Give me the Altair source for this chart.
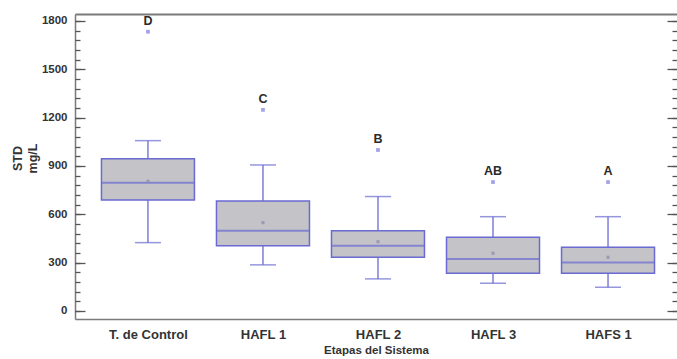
import altair as alt
import pandas as pd

cats = ["T. de Control", "HAFL 1", "HAFL 2", "HAFL 3", "HAFS 1"]
lower = [424, 286, 199, 172, 147]
q1 = [688, 405, 333, 234, 234]
median = [795, 497, 405, 323, 300]
q3 = [945, 683, 498, 457, 395]
upper = [1057, 906, 710, 585, 585]
means = [805, 548, 430, 358, 333]
outliers = [1733, 1248, 999, 800, 800]
letters = ["D", "C", "B", "AB", "A"]

major_ticks = [0, 300, 600, 900, 1200, 1500, 1800]
minor_ticks = [v for v in range(0, 1801, 60)]

df = pd.DataFrame({
    "cat": cats, "lower": lower, "q1": q1, "median": median, "q3": q3,
    "upper": upper, "mean": means, "out": outliers, "letter": letters,
})
caps = pd.DataFrame({
    "cat": cats + cats,
    "v": lower + upper,
})

W = 602
H = 305
FONT = "Liberation Sans"
BLUE = "#6a6ad2"
FILL = "#c3c3c8"
AXIS_GRAY = "#7a7a7a"

xscale = alt.Scale(type="point", domain=cats, padding=0.617, align=0.514)
yscale = alt.Scale(domain=[-50, 1843], nice=False, zero=False)

base = alt.Chart(df)

x_main = alt.X("cat:N", scale=xscale, sort=cats,
               axis=alt.Axis(orient="bottom", title="Etapas del Sistema",
                             labelAngle=0, ticks=False, labelPadding=9,
                             labelFont=FONT, labelFontSize=13, labelFontWeight="bold",
                             labelColor="#333333",
                             titleFont=FONT, titleFontSize=11.5, titleFontWeight="bold",
                             titleColor="#333333", titlePadding=3,
                             domainColor=AXIS_GRAY, domainWidth=1.5))
x_plain = alt.X("cat:N", scale=xscale, sort=cats, axis=None)

boxes = base.mark_bar(size=93, fill=FILL, stroke=BLUE, strokeWidth=1.5).encode(
    x=x_main,
    y=alt.Y("q1:Q", scale=yscale,
            axis=alt.Axis(orient="left", title=["STD", "mg/L"], values=major_ticks,
                          format="d", ticks=False, labelPadding=8, grid=False,
                          labelFont=FONT, labelFontSize=11.5, labelFontWeight="bold",
                          labelColor="#333333",
                          titleFont=FONT, titleFontSize=12.5, titleFontWeight="bold",
                          titleColor="#333333", titlePadding=2, titleY=144,
                          domainColor=AXIS_GRAY, domainWidth=1.5)),
    y2="q3:Q",
)

whisk = base.mark_rule(color=BLUE, strokeWidth=1.3).encode(
    x=x_plain,
    y=alt.Y("lower:Q", scale=yscale, axis=None),
    y2="upper:Q",
)

capmarks = alt.Chart(caps).mark_tick(size=26, thickness=1.5, color=BLUE).encode(
    x=x_plain,
    y=alt.Y("v:Q", scale=yscale, axis=None),
)

med = base.mark_tick(size=93, thickness=2, color=BLUE).encode(
    x=x_plain,
    y=alt.Y("median:Q", scale=yscale, axis=None),
)

meanpts = base.mark_point(shape="square", size=10, filled=True, color="#8a8aa8").encode(
    x=x_plain,
    y=alt.Y("mean:Q", scale=yscale, axis=None),
)

outpts = base.mark_point(shape="square", size=14, filled=True, color="#7b7be0").encode(
    x=x_plain,
    y=alt.Y("out:Q", scale=yscale, axis=None),
)

labels = base.mark_text(dy=-11, font=FONT, fontSize=12.5, fontWeight="bold",
                        color="#2a2a2a", baseline="middle").encode(
    x=x_plain,
    y=alt.Y("out:Q", scale=yscale, axis=None),
    text="letter:N",
)


def tick_layer(orient, values, size):
    return base.mark_point(opacity=0).encode(
        x=x_plain,
        y=alt.Y("out:Q", scale=yscale,
                axis=alt.Axis(orient=orient, offset=-W, values=values, labels=False,
                              domain=False, grid=False, title=None,
                              tickSize=size, tickColor="#555555", tickWidth=1.3)),
    )


left_major = tick_layer("right", major_ticks, 10)
left_minor = tick_layer("right", minor_ticks, 5)
right_major = tick_layer("left", major_ticks, 10)
right_minor = tick_layer("left", minor_ticks, 5)

top_frame = base.mark_point(opacity=0).encode(
    x=alt.X("cat:N", scale=xscale, sort=cats,
            axis=alt.Axis(orient="top", labels=False, ticks=False, title=None,
                          domainColor=AXIS_GRAY, domainWidth=2)),
    y=alt.Y("out:Q", scale=yscale, axis=None),
)

chart = alt.layer(
    whisk, boxes, capmarks, med, meanpts, outpts, labels,
    left_major, left_minor, right_major, right_minor, top_frame,
).resolve_axis(
    x="independent", y="independent"
).properties(
    width=W, height=H,
    autosize=alt.AutoSizeParams(type="none"),
    padding={"left": 75, "top": 14, "right": 0, "bottom": 40},
    background="white",
).configure_view(stroke=None)

chart.save("out.html", embed_options={"renderer": "svg", "actions": False})
